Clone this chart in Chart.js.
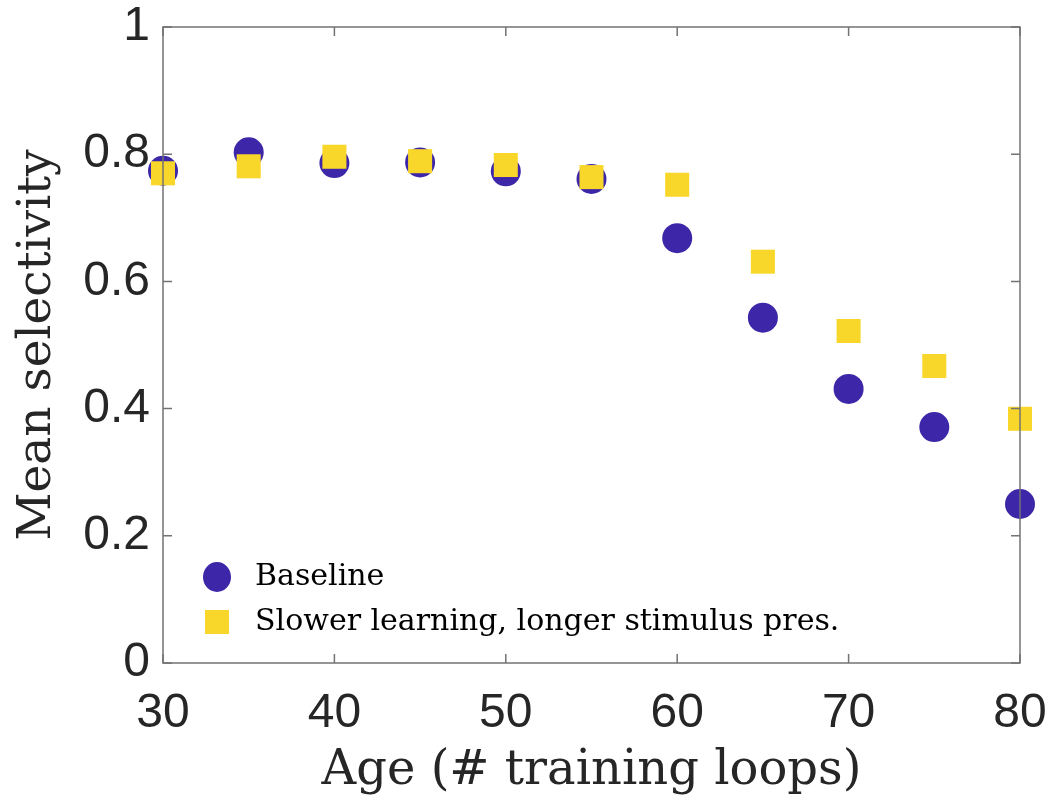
<!DOCTYPE html>
<html>
<head>
<meta charset="utf-8">
<script src="https://cdn.jsdelivr.net/npm/chart.js@4.4.1/dist/chart.umd.min.js"></script>
<style>
  html, body { margin: 0; padding: 0; background: #fff; }
  #wrap { width: 1052px; height: 800px; position: relative; }
</style>
</head>
<body>
<div id="wrap"><canvas id="chart"></canvas></div>
<script>
// ages (training loops)
const ages = [30, 35, 40, 45, 50, 55, 60, 65, 70, 75, 80];
// mean selectivity per series
const baseline = [0.774, 0.803, 0.786, 0.787, 0.773, 0.761, 0.668, 0.543, 0.431, 0.371, 0.250];
const slower = [0.770, 0.781, 0.796, 0.789, 0.783, 0.764, 0.752, 0.631, 0.522, 0.467, 0.384];

const xTicks = [30, 40, 50, 60, 70, 80];
const yTicks = [0, 0.2, 0.4, 0.6, 0.8, 1];

const BLUE = '#3e26a8';
const YELLOW = '#f8d72a';
const AXIS = '#737373';
const TXT = '#262626';
const SERIF = '"DejaVu Serif", "Liberation Serif", serif';
const SANS = '"Liberation Sans", Arial, sans-serif';

function toPts(xs, ys) {
    return xs.map((x, i) => ({ x: x, y: ys[i] }));
}

// box + inward ticks like the original figure
const boxPlugin = {
    id: 'boxTicks',
    afterDatasetsDraw(chart) {
        const { ctx, chartArea: a, scales } = chart;
        ctx.save();
        ctx.strokeStyle = AXIS;
        ctx.lineWidth = 1.5;
        ctx.strokeRect(a.left, a.top, a.right - a.left, a.bottom - a.top);
        const len = 9;
        ctx.beginPath();
        xTicks.forEach(v => {
            const px = scales.x.getPixelForValue(v);
            ctx.moveTo(px, a.bottom); ctx.lineTo(px, a.bottom - len);
            ctx.moveTo(px, a.top); ctx.lineTo(px, a.top + len);
        });
        yTicks.forEach(v => {
            const py = scales.y.getPixelForValue(v);
            ctx.moveTo(a.left, py); ctx.lineTo(a.left + len, py);
            ctx.moveTo(a.right, py); ctx.lineTo(a.right - len, py);
        });
        ctx.stroke();
        ctx.restore();
    },
    afterDraw(chart) {
        // legend inside the axes, lower left
        const { ctx, chartArea: a } = chart;
        const rows = chart.data.datasets;
        ctx.save();
        ctx.font = '30px ' + SERIF;
        ctx.textBaseline = 'middle';
        const x0 = a.left + 54;
        const y0 = a.bottom - 86;
        rows.slice().sort((p, q) => p.legendRow - q.legendRow).forEach((ds, i) => {
            const y = y0 + i * 45;
            ctx.fillStyle = ds.backgroundColor;
            if (ds.pointStyle === 'rect') {
                ctx.fillRect(x0 - 12, y - 12, 24, 24);
            } else {
                ctx.beginPath();
                ctx.ellipse(x0, y, 14, 15, 0, 0, Math.PI * 2);
                ctx.fill();
            }
            ctx.fillStyle = '#000';
            ctx.fillText(ds.label, x0 + 38, y);
        });
        ctx.restore();
    }
};

new Chart(document.getElementById('chart').getContext('2d'), {
    type: 'scatter',
    data: {
        datasets: [
            {
                label: 'Slower learning, longer stimulus pres.',
                data: toPts(ages, slower),
                pointStyle: 'rect',
                pointRadius: 17,
                pointHoverRadius: 17,
                backgroundColor: YELLOW,
                borderWidth: 0,
                clip: false,
                order: 1,
                legendRow: 1
            },
            {
                label: 'Baseline',
                data: toPts(ages, baseline),
                pointStyle: 'circle',
                pointRadius: 15,
                pointHoverRadius: 15,
                backgroundColor: BLUE,
                borderWidth: 0,
                clip: false,
                order: 2,
                legendRow: 0
            }
        ]
    },
    plugins: [boxPlugin],
    options: {
        responsive: true,
        maintainAspectRatio: false,
        animation: false,
        layout: { padding: { top: 27, right: 32, left: 0, bottom: 0 } },
        scales: {
            x: {
                type: 'linear',
                min: 30,
                max: 80,
                afterBuildTicks: (s) => { s.ticks = xTicks.map(v => ({ value: v })); },
                afterFit: (s) => { s.height = 137; s.paddingLeft = 0; s.paddingRight = 0; },
                grid: { display: false, drawTicks: false },
                border: { display: false },
                ticks: {
                    color: TXT,
                    font: { family: SANS, size: 48 },
                    padding: 22,
                    maxRotation: 0
                },
                title: {
                    display: true,
                    text: 'Age (# training loops)',
                    color: TXT,
                    font: { family: SERIF, size: 48 },
                    padding: { top: 0, bottom: 0 }
                }
            },
            y: {
                type: 'linear',
                min: 0,
                max: 1,
                afterBuildTicks: (s) => { s.ticks = yTicks.map(v => ({ value: v })); },
                afterFit: (s) => { s.width = 163; s.paddingTop = 0; s.paddingBottom = 0; },
                grid: { display: false, drawTicks: false },
                border: { display: false },
                ticks: {
                    color: TXT,
                    font: { family: SANS, size: 48 },
                    padding: 13,
                    callback: (v) => String(Math.round(v * 10) / 10)
                },
                title: {
                    display: true,
                    text: 'Mean selectivity',
                    color: TXT,
                    font: { family: SERIF, size: 47 },
                    padding: { top: 10, bottom: 0 }
                }
            }
        },
        plugins: {
            legend: { display: false },
            tooltip: { enabled: false }
        }
    }
});
</script>
</body>
</html>
